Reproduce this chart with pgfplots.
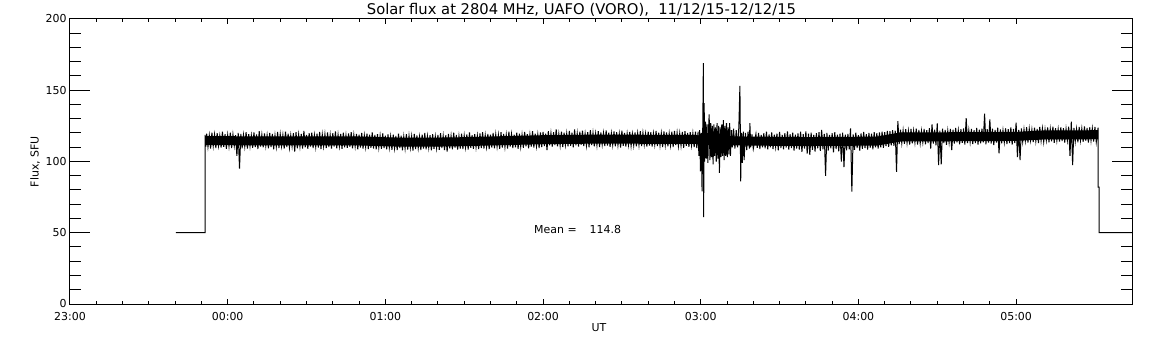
\documentclass[border=0pt]{standalone}
\usepackage{fontspec}
\setmainfont{DejaVu Sans}
\usepackage{pgfplots}
\pgfplotsset{compat=1.18}
\begin{document}
\begin{tikzpicture}
\useasboundingbox (-70bp,-41bp) rectangle (1082bp,304bp);
% axis for x ticks (short ticks)
\begin{axis}[at={(0,0)}, anchor=south west, scale only axis,
  width=1062bp, height=285bp,
  xmin=-60, xmax=344.1, ymin=0, ymax=200,
  xtick={-60,0,60,120,180,240,300},
  xticklabels={23:00,00:00,01:00,02:00,03:00,04:00,05:00},
  minor x tick num=5, ytick=\empty,
  major tick length=5bp, minor tick length=2.7bp,
  tick align=inside, tick style={black, line width=1bp},
  axis line style={black, line width=1bp},
  xticklabel style={font=\fontsize{11}{13}\selectfont, anchor=base, yshift=-16bp},
]
\end{axis}
% axis for y ticks and data
\begin{axis}[at={(0,0)}, anchor=south west, scale only axis,
  width=1062bp, height=285bp,
  xmin=-60, xmax=344.1, ymin=0, ymax=200,
  xtick=\empty,
  ytick={0,50,100,150,200}, yticklabels={0,50,100,150,200},
  minor y tick num=4,
  major tick length=20bp, minor tick length=11bp,
  tick align=inside, tick style={black, line width=1bp},
  axis line style={black, line width=1bp},
  yticklabel style={font=\fontsize{11}{13}\selectfont},
]
% solid core of the noisy band
\addplot[black, line width=9bp, line join=round] coordinates {
(-8.6,114.6) (50,114.4) (65,113.6) (85,113.7) (100,114.4) (120,115.3) (140,115.7)
(178,115.5) (180,114.8) (200,114.3) (220,114) (247,114.3) (256,117.2) (300,117.6)
(310,118.6) (331.2,118.8)
};
% flux signal
\addplot[black, line width=1bp] coordinates {
(-19.7,50) (-8.6,50) (-8.6,118.6) (-8.3,110.5)
(-8,119.6) (-7.5,110.2) (-7,118.4) (-6.5,109.1) (-6,120.3) (-5.5,110.8) (-5,118.9) (-4.5,109.5) (-4,119.8) (-3.5,111.0) (-3,118.2) (-2.5,109.7) (-2,120.9) (-1.5,110.3) (-1,119.1) (-0.5,108.9)
(0,118.6) (0.5,110.6) (1,120.2) (1.5,109.4) (2,119.0) (2.5,110.9) (3,118.5) (3.5,104.0) (4,120.1) (4.5,95.0) (5,119.4) (5.5,109.3) (6,118.7) (6.5,110.5) (7,120.6) (7.5,109.0) (8,119.2) (8.5,110.7) (9,118.3) (9.5,109.6)
(10,120.4) (10.5,110.2) (11,119.0) (11.5,108.8) (12,121.2) (12.5,110.4) (13,118.8) (13.5,109.9) (14,119.7) (14.5,110.9) (15,118.5) (15.5,109.2) (16,120.0) (16.5,110.1) (17,119.3) (17.5,108.6) (18,118.4) (18.5,110.3) (19,120.7) (19.5,109.5)
(20,119.1) (20.5,110.8) (21,118.6) (21.5,109.0) (22,121.0) (22.5,110.2) (23,119.5) (23.5,109.7) (24,118.3) (24.5,110.6) (25,119.9) (25.5,107.0) (26,120.5) (26.5,109.3) (27,118.9) (27.5,110.4) (28,119.4) (28.5,109.1) (29,121.4) (29.5,110.0)
(30,118.7) (30.5,108.9) (31,119.8) (31.5,110.5) (32,120.3) (32.5,109.4) (33,118.5) (33.5,110.2) (34,119.6) (34.5,109.8) (35,120.8) (35.5,108.7) (36,118.9) (36.5,110.6) (37,119.2) (37.5,109.5) (38,120.4) (38.5,110.1) (39,118.6) (39.5,109.0)
(40,119.9) (40.5,110.4) (41,121.1) (41.5,109.3) (42,118.8) (42.5,110.7) (43,119.4) (43.5,108.9) (44,120.2) (44.5,110.0) (45,118.4) (45.5,109.6) (46,119.7) (46.5,110.3) (47,120.6) (47.5,109.2) (48,118.7) (48.5,110.5) (49,119.3) (49.5,108.6)
(50,118.9) (50.5,109.8) (51,120.1) (51.5,109.0) (52,118.3) (52.5,110.1) (53,119.5) (53.5,108.7) (54,118.8) (54.5,109.6) (55,120.4) (55.5,109.1) (56,118.6) (56.5,108.5) (57,119.2) (57.5,109.8) (58,118.1) (58.5,108.9) (59,119.7) (59.5,109.4)
(60,118.2) (60.5,108.6) (61,119.0) (61.5,109.7) (62,117.6) (62.5,108.2) (63,118.8) (63.5,109.3) (64,117.9) (64.5,108.0) (65,119.6) (65.5,109.5) (66,118.1) (66.5,107.9) (67,117.5) (67.5,109.1) (68,119.2) (68.5,108.4) (69,118.0) (69.5,109.6)
(70,117.7) (70.5,107.6) (71,119.4) (71.5,108.8) (72,118.3) (72.5,109.4) (73,117.4) (73.5,108.1) (74,118.9) (74.5,109.0) (75,120.0) (75.5,108.5) (76,117.8) (76.5,109.7) (77,118.5) (77.5,107.8) (78,119.1) (78.5,108.9) (79,117.6) (79.5,109.3)
(80,118.7) (80.5,108.2) (81,119.8) (81.5,109.5) (82,117.9) (82.5,108.0) (83,118.4) (83.5,106.9) (84,119.3) (84.5,109.2) (85,118.0) (85.5,108.6) (86,120.2) (86.5,109.8) (87,118.6) (87.5,108.3) (88,117.8) (88.5,109.1) (89,119.5) (89.5,108.7)
(90,118.2) (90.5,109.9) (91,119.0) (91.5,108.4) (92,120.4) (92.5,109.6) (93,118.5) (93.5,108.9) (94,119.2) (94.5,110.0) (95,118.1) (95.5,108.8) (96,119.7) (96.5,109.5) (97,120.6) (97.5,109.1) (98,118.4) (98.5,110.2) (99,119.3) (99.5,108.7)
(100,118.8) (100.5,109.8) (101,120.1) (101.5,109.3) (102,119.0) (102.5,110.4) (103,118.6) (103.5,108.9) (104,120.5) (104.5,109.7) (105,119.4) (105.5,110.1) (106,118.7) (106.5,109.0) (107,121.0) (107.5,110.5) (108,119.1) (108.5,109.4) (109,118.9) (109.5,110.0)
(110,120.3) (110.5,108.9) (111,119.5) (111.5,110.3) (112,118.8) (112.5,109.6) (113,120.7) (113.5,110.6) (114,119.2) (114.5,109.2) (115,118.9) (115.5,110.4) (116,121.3) (116.5,109.8) (117,119.6) (117.5,110.7) (118,119.0) (118.5,109.5) (119,120.4) (119.5,110.2)
(120,120.8) (120.5,110.9) (121,119.6) (121.5,108.0) (122,121.2) (122.5,111.3) (123,119.9) (123.5,110.4) (124,120.5) (124.5,111.6) (125,122.6) (125.5,110.7) (126,119.4) (126.5,111.2) (127,121.0) (127.5,110.1) (128,120.2) (128.5,111.5) (129,119.7) (129.5,110.6)
(130,121.5) (130.5,111.0) (131,120.3) (131.5,109.9) (132,122.5) (132.5,111.4) (133,119.8) (133.5,110.5) (134,120.9) (134.5,111.7) (135,121.7) (135.5,110.8) (136,119.5) (136.5,111.1) (137,120.6) (137.5,110.0) (138,122.0) (138.5,111.5) (139,120.1) (139.5,110.6)
(140,119.6) (140.5,111.3) (141,121.3) (141.5,110.2) (142,120.4) (142.5,111.8) (143,119.9) (143.5,110.9) (144,121.8) (144.5,111.2) (145,120.2) (145.5,110.3) (146,119.7) (146.5,111.6) (147,121.1) (147.5,110.7) (148,120.5) (148.5,111.4) (149,119.4) (149.5,109.8)
(150,121.6) (150.5,111.0) (151,120.0) (151.5,110.5) (152,119.6) (152.5,111.7) (153,120.8) (153.5,110.9) (154,119.3) (154.5,111.3) (155,120.4) (155.5,110.6) (156,119.8) (156.5,111.5) (157,121.2) (157.5,110.8) (158,120.1) (158.5,111.9) (159,119.5) (159.5,110.4)
(160,121.0) (160.5,111.2) (161,120.6) (161.5,110.5) (162,119.7) (162.5,111.8) (163,121.4) (163.5,110.9) (164,120.3) (164.5,111.3) (165,119.8) (165.5,110.2) (166,121.1) (166.5,111.6) (167,120.4) (167.5,110.7) (168,119.6) (168.5,111.4) (169,120.9) (169.5,110.1)
(170,121.5) (170.5,111.5) (171,120.2) (171.5,110.8) (172,119.7) (172.5,111.1) (173,120.8) (173.5,109.6) (174,121.3) (174.5,111.0) (175,120.0) (175.5,110.3) (176,120.6) (176.5,111.4) (177,119.8) (177.5,110.1) (178,121.0) (178.5,109.5)
(179,121) (179.3,104) (179.6,122) (179.9,93) (180.2,120) (180.5,79) (180.8,130) (181,169) (181.1,61) (181.3,141) (181.5,100) (181.8,128) (182.1,102) (182.4,126) (182.7,99) (183,124) (183.2,133) (183.5,101) (183.8,127) (184.1,103)
(184.4,125) (184.7,98) (185,126) (185.3,104) (185.6,124) (185.9,100) (186.2,127) (186.5,102) (186.8,125) (187.1,92) (187.4,124) (187.7,103) (188,126) (188.3,104) (188.6,129) (188.9,101) (189.2,125) (189.5,104) (189.8,127) (190.1,103)
(190.4,124) (190.7,105) (191,127) (191.3,104) (191.7,122) (192,110) (192.5,123) (193,109) (193.5,122) (194,110) (194.5,124) (194.9,153) (195.1,112) (195.2,86) (195.5,120) (195.8,99) (196.2,121) (196.5,101) (197,120) (197.5,108)
(198,121) (198.5,109) (198.7,127) (199,110) (199.5,119) (200,109)
(201,119.3) (201.5,109.6) (202,120.1) (202.5,108.8) (203,118.7) (203.5,110.0) (204,119.8) (204.5,109.2) (205,121.0) (205.5,108.5) (206,119.0) (206.5,109.9) (207,120.4) (207.5,108.7) (208,118.9) (208.5,110.2) (209,119.6) (209.5,107.9)
(210,120.7) (210.5,109.4) (211,118.6) (211.5,108.6) (212,119.9) (212.5,109.8) (213,121.1) (213.5,108.3) (214,119.2) (214.5,109.5) (215,120.3) (215.5,107.6) (216,118.8) (216.5,109.1) (217,119.7) (217.5,108.4) (218,120.9) (218.5,106.8) (219,119.1) (219.5,109.0)
(220,121.2) (220.5,105.6) (221,119.5) (221.5,104.6) (222,120.2) (222.5,108.1) (223,118.7) (223.5,106.9) (224,119.9) (224.5,109.2) (225,120.6) (225.5,107.4) (226,122.1) (226.5,108.6) (227,119.3) (227.5,90.0) (228,120.0) (228.5,107.7) (229,118.6) (229.5,109.3)
(230,119.8) (230.5,106.4) (231,120.5) (231.5,108.8) (232,118.9) (232.5,107.2) (233,119.6) (233.5,100.0) (234,120.3) (234.5,96.0) (235,118.8) (235.5,107.9) (236,119.4) (236.5,108.5) (237,123.3) (237.5,78.8) (238,119.0) (238.5,108.1) (239,120.2) (239.5,109.4)
(240,118.5) (240.5,107.6) (241,119.7) (241.5,108.9) (242,120.8) (242.5,109.5) (243,119.2) (243.5,108.3) (244,120.0) (244.5,109.7) (245,119.5) (245.5,108.6) (246,120.6) (246.5,109.9) (247,119.8) (247.5,109.1) (248,120.4) (248.5,110.0) (249,121.0) (249.5,109.6)
(250,120.6) (250.5,110.8) (251,121.5) (251.5,110.3) (252,121.2) (252.5,111.4) (253,122.0) (253.5,111.0) (254,121.6) (254.5,92.8) (255,128.4) (255.5,112.2) (256,122.3) (256.5,112.9) (257,121.8) (257.5,112.4) (258,122.6) (258.5,113.1) (259,121.4) (259.5,111.8)
(260,122.9) (260.5,112.7) (261,121.6) (261.5,113.3) (262,123.1) (262.5,111.9) (263,122.2) (263.5,112.8) (264,121.5) (264.5,113.5) (265,122.8) (265.5,112.1) (266,121.9) (266.5,113.0) (267,123.4) (267.5,109.0) (268,126.0) (268.5,112.6) (269,122.4) (269.5,111.4)
(270,126.8) (270.5,97.5) (271,121.7) (271.5,98.0) (272,123.0) (272.5,112.9) (273,122.1) (273.5,111.7) (274,121.6) (274.5,113.2) (275,122.9) (275.5,108.0) (276,122.3) (276.5,112.5) (277,123.6) (277.5,113.4) (278,121.8) (278.5,112.0) (279,122.7) (279.5,113.1)
(280,123.2) (280.5,111.8) (281,130.5) (281.5,112.9) (282,122.0) (282.5,113.6) (283,122.8) (283.5,112.3) (284,121.9) (284.5,113.0) (285,123.5) (285.5,111.9) (286,122.4) (286.5,112.8) (287,123.1) (287.5,113.4) (288,133.5) (288.5,112.1) (289,122.6) (289.5,113.2)
(290,129.5) (290.5,112.6) (291,123.0) (291.5,111.5) (292,122.2) (292.5,113.3) (293,123.7) (293.5,105.7) (294,122.5) (294.5,112.7) (295,121.9) (295.5,113.5) (296,123.3) (296.5,112.2) (297,122.6) (297.5,113.0) (298,124.0) (298.5,111.8) (299,122.8) (299.5,112.9)
(300,127.3) (300.5,103.0) (301,122.1) (301.5,101.0) (302,123.2) (302.5,113.8) (303,122.6) (303.5,114.5) (304,124.1) (304.5,113.2) (305,123.0) (305.5,114.8) (306,122.4) (306.5,113.6) (307,123.8) (307.5,114.3) (308,122.9) (308.5,112.9) (309,124.3) (309.5,114.6)
(310,123.1) (310.5,113.7) (311,122.5) (311.5,114.9) (312,123.9) (312.5,113.4) (313,122.8) (313.5,114.2) (314,124.5) (314.5,113.1) (315,123.3) (315.5,114.7) (316,122.7) (316.5,113.9) (317,124.0) (317.5,114.4) (318,123.4) (318.5,113.3) (319,122.9) (319.5,114.8)
(320,124.5) (320.5,104.0) (321,128.0) (321.5,97.5) (322,123.6) (322.5,114.1) (323,122.8) (323.5,113.5) (324,124.2) (324.5,114.9) (325,123.1) (325.5,113.8) (326,124.6) (326.5,114.6) (327,123.5) (327.5,113.2) (328,124.0) (328.5,114.7) (329,123.2) (329.5,114.0)
(330,124.3) (330.5,113.6) (331.2,123.8) (331.2,82) (331.6,82) (331.6,50) (344.5,50)
};
\end{axis}
\node[anchor=base west, inner sep=0, font=\fontsize{14.8}{17}\selectfont] at (296.7bp,289bp) {Solar flux at 2804 MHz, UAFO (VORO),\ \ 11/12/15-12/12/15};
\node[rotate=90, font=\fontsize{11}{13}\selectfont] at (-35bp,142.5bp) {Flux, SFU};
\node[font=\fontsize{11}{13}\selectfont] at (529bp,-24bp) {UT};
\node[anchor=base west, inner sep=0, font=\fontsize{11}{13}\selectfont] at (464bp,70.7bp) {Mean =\hspace{13bp}114.8};
\end{tikzpicture}
\end{document}
